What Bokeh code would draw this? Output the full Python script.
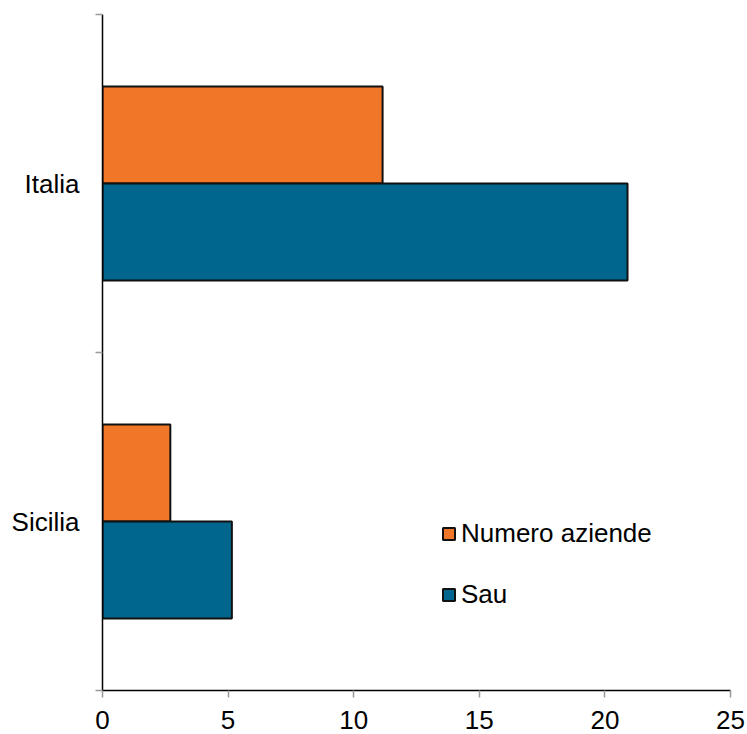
from bokeh.plotting import figure
from bokeh.models import ColumnDataSource, FixedTicker, Range1d, Legend, LegendItem
from bokeh.embed import file_html
from bokeh.resources import INLINE

categories = ["Italia", "Sicilia"]
numero_aziende = [11.15, 2.7]
sau = [20.9, 5.15]
x_ticks = [0, 5, 10, 15, 20, 25]

n = len(categories)
centers = [n - i - 0.5 for i in range(n)]
bar_h = 0.287

src_a = ColumnDataSource(dict(y=[c + bar_h / 2 for c in centers], v=numero_aziende))
src_s = ColumnDataSource(dict(y=[c - bar_h / 2 for c in centers], v=sau))

FONT = "Liberation Sans"
W, H = 747, 734
LEFT, TOP, FW, FH = 102, 14, 628, 676

p = figure(width=W, height=H, output_backend="svg", toolbar_location=None,
           x_range=Range1d(0, 25), y_range=Range1d(0, n),
           min_border_left=LEFT, min_border_right=W - LEFT - FW, min_border_top=TOP,
           min_border_bottom=H - TOP - FH)
p.outline_line_color = None
p.xgrid.grid_line_color = None
p.ygrid.grid_line_color = None
p.background_fill_color = "white"

r1 = p.hbar(y="y", right="v", left=0, height=bar_h, source=src_a,
            fill_color="#F07628", line_color="#111111", line_width=2)
r2 = p.hbar(y="y", right="v", left=0, height=bar_h, source=src_s,
            fill_color="#00668E", line_color="#111111", line_width=2)

# x axis
xa = p.xaxis[0]
xa.ticker = FixedTicker(ticks=x_ticks)
xa.axis_line_color = "black"
xa.axis_line_width = 1.5
xa.major_tick_line_color = "#999999"
xa.major_tick_line_width = 1.5
xa.major_tick_out = 7
xa.major_tick_in = 0
xa.minor_tick_line_color = None
xa.major_label_text_font = FONT
xa.major_label_text_font_size = "26px"
xa.major_label_text_color = "black"
xa.major_label_standoff = 13

# y axis
ya = p.yaxis[0]
ya.ticker = FixedTicker(ticks=centers, minor_ticks=list(range(n + 1)))
ya.major_label_overrides = {c: categories[i] for i, c in enumerate(centers)}
ya.axis_line_color = "black"
ya.axis_line_width = 1.5
ya.major_tick_line_color = None
ya.major_tick_out = 0
ya.major_tick_in = 0
ya.minor_tick_line_color = "#999999"
ya.minor_tick_line_width = 1.5
ya.minor_tick_out = 7
ya.minor_tick_in = 0
ya.major_label_text_font = FONT
ya.major_label_text_font_size = "26px"
ya.major_label_text_color = "black"
ya.major_label_standoff = 16

legend = Legend(items=[LegendItem(label="Numero aziende", renderers=[r1]),
                       LegendItem(label="Sau", renderers=[r2])],
                location=(339, 80))
legend.border_line_color = None
legend.background_fill_alpha = 0
legend.padding = 0
legend.margin = 0
legend.spacing = 30
legend.glyph_width = 15
legend.glyph_height = 15
legend.label_standoff = 5
legend.label_text_font = FONT
legend.label_text_font_size = "26px"
legend.label_text_color = "black"
p.add_layout(legend)

open("out.html", "w").write(file_html(p, INLINE))
